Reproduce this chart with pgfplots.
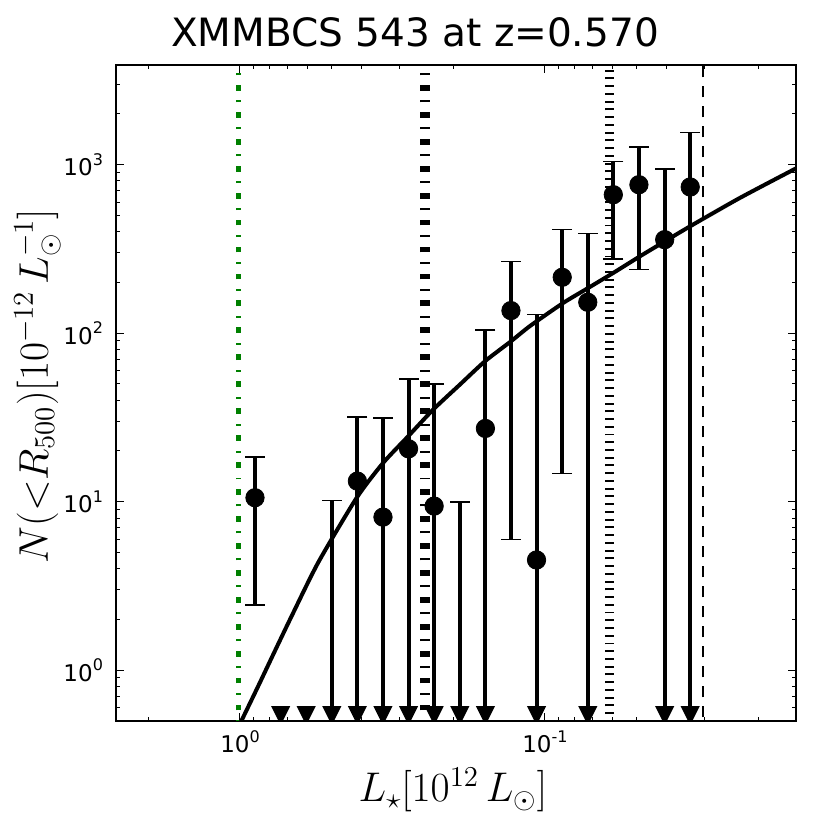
\documentclass[border=0pt]{standalone}
\usepackage[no-math]{fontspec}
\setmainfont{DejaVu Sans}
\usepackage{pgfplots}
\pgfplotsset{compat=1.18}
\definecolor{mplgreen}{rgb}{0,0.5,0}
\pgfdeclareplotmark{dtri}{%
  \pgfpathmoveto{\pgfqpoint{0pt}{-\pgfplotmarksize}}%
  \pgfpathlineto{\pgfqpoint{-\pgfplotmarksize}{\pgfplotmarksize}}%
  \pgfpathlineto{\pgfqpoint{\pgfplotmarksize}{\pgfplotmarksize}}%
  \pgfpathclose\pgfusepathqfill}
\newcommand\tl[1]{10\raisebox{0.45em}{\fontsize{8pt}{8pt}\selectfont #1}}
\begin{document}
\begin{tikzpicture}
\begin{axis}[name=ax, at={(0,0)}, anchor=south west,
  scale only axis, width=340pt, height=328pt,
  xmode=log, ymode=log, x dir=reverse,
  xmin=0.01503, xmax=2.55, ymin=0.5, ymax=3900,
  xtick={1,0.1}, xticklabels={\tl{0},\tl{-1}},
  ytick={1,10,100,1000}, yticklabels={\tl{0},\tl{1},\tl{2},\tl{3}},
  minor xtick={2,0.9,0.8,0.7,0.6,0.5,0.4,0.3,0.2,0.09,0.08,0.07,0.06,0.05,0.04,0.03,0.02},
  minor ytick={0.6,0.7,0.8,0.9,2,3,4,5,6,7,8,9,20,30,40,50,60,70,80,90,200,300,400,500,600,700,800,900,2000,3000},
  tick align=inside, major tick length=4pt, minor tick length=2pt,
  tick style={black, line width=0.5pt},
  axis line style={line width=0.9pt},
  ticklabel style={font=\fontsize{11.5pt}{12pt}\selectfont},
  xticklabel style={yshift=-1.2pt},
  yticklabel style={xshift=-3pt},
  clip marker paths=true,
]
% vertical reference lines
\addplot[mplgreen, line width=2.7pt, dash pattern=on 2.9pt off 4.8pt on 0.97pt off 4.8pt] coordinates {(1.01,0.4) (1.01,5000)};
\addplot[black, line width=5pt, dash pattern=on 2.9pt off 4.8pt on 0.97pt off 4.8pt] coordinates {(0.2474,0.4) (0.2474,5000)};
\addplot[black, line width=4.2pt, dash pattern=on 0.97pt off 2.9pt] coordinates {(0.0615,0.4) (0.0615,5000)};
\addplot[black, line width=1.2pt, dash pattern=on 5.5pt off 4.5pt] coordinates {(0.0303,0.4) (0.0303,5000)};
% model curve
\addplot[black, line width=2pt, smooth, tension=0.4] coordinates {
(1.0307,0.435) (0.9873,0.505) (0.8710,0.807) (0.7678,1.305) (0.6768,2.099) (0.5537,4.367)
(0.4143,10.56) (0.3390,17.03) (0.2807,24.48) (0.2324,35.26) (0.1900,49.58) (0.1573,68.15)
(0.1302,88.56) (0.1120,110.2) (0.0871,151.2) (0.0721,185.6) (0.0597,227.8) (0.04883,285.7)
(0.04043,350.6) (0.03346,430.2) (0.02294,634.8) (0.01495,954.6)};
% error bar lines
\addplot[black, line width=2pt, unbounded coords=jump] coordinates {
(0.8929,2.43) (0.8929,18.48) (0.8929,nan)
(0.5000,0.4) (0.5000,10.18) (0.5000,nan)
(0.4122,0.4) (0.4122,31.73) (0.4122,nan)
(0.3398,0.4) (0.3398,31.3) (0.3398,nan)
(0.2801,0.4) (0.2801,53.6) (0.2801,nan)
(0.2309,0.4) (0.2309,50.1) (0.2309,nan)
(0.1903,0.4) (0.1903,9.95) (0.1903,nan)
(0.1568,0.4) (0.1568,104) (0.1568,nan)
(0.1293,5.98) (0.1293,265.7) (0.1293,nan)
(0.1066,0.4) (0.1066,128.9) (0.1066,nan)
(0.0878,14.7) (0.0878,411.3) (0.0878,nan)
(0.0724,0.4) (0.0724,391) (0.0724,nan)
(0.0597,275.7) (0.0597,1045) (0.0597,nan)
(0.0492,239) (0.0492,1272) (0.0492,nan)
(0.0405,0.4) (0.0405,942) (0.0405,nan)
(0.0334,0.4) (0.0334,1552)};
% caps
\addplot[black, only marks, mark=-, mark size=5pt, mark options={line width=0.8pt}] coordinates {
(0.8929,2.43) (0.8929,18.48) (0.5000,10.18) (0.4122,31.73) (0.3398,31.3) (0.2801,53.6)
(0.2309,50.1) (0.1903,9.95) (0.1568,104) (0.1293,5.98) (0.1293,265.7) (0.1066,128.9)
(0.0878,14.7) (0.0878,411.3) (0.0724,391) (0.0597,275.7) (0.0597,1045) (0.0492,239)
(0.0492,1272) (0.0405,942) (0.0334,1552)};
% data points
\addplot[black, only marks, mark=*, mark size=4.6pt] coordinates {
(0.8929,10.56) (0.4122,13.25) (0.3398,8.10) (0.2801,20.6) (0.2309,9.42) (0.1568,27.2)
(0.1293,136.1) (0.1066,4.51) (0.0878,214.5) (0.0724,152.5) (0.0597,663) (0.0492,760)
(0.0405,358.7) (0.0334,736.5)};
% upper-limit arrows
\addplot[black, only marks, mark=dtri, mark size=4.8pt] coordinates {
(0.7358,0.538) (0.6067,0.538) (0.5000,0.538) (0.4122,0.538) (0.3398,0.538) (0.2801,0.538)
(0.2309,0.538) (0.1903,0.538) (0.1568,0.538) (0.1066,0.538) (0.0724,0.538) (0.0405,0.538)
(0.0334,0.538)};
\end{axis}
\node[anchor=base, font=\fontsize{19.5pt}{20pt}\selectfont] at (149.5pt,337pt) {XMMBCS 543 at z=0.570};
\node[anchor=base] at (168.5pt,-40.5pt) {\fontsize{20.74pt}{22pt}\selectfont $L_\star[10^{12}\,L_\odot]$};
\node[anchor=base, rotate=90] at (-34pt,167.5pt) {\fontsize{20.74pt}{22pt}\selectfont $N({<}R_{500})[10^{-12}\,L_\odot^{-1}]$};
\pgfresetboundingbox
\path[use as bounding box] (-58pt,-54.5pt) rectangle (357pt,360.5pt);
\end{tikzpicture}
\end{document}
